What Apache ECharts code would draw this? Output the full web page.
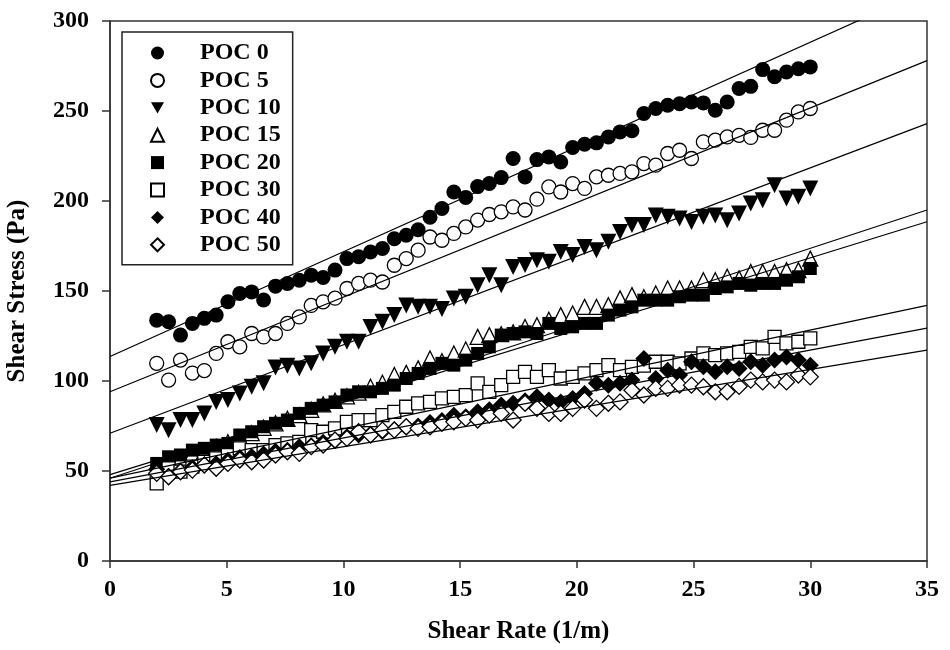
<!DOCTYPE html>
<html><head><meta charset="utf-8">
<script src="https://cdn.jsdelivr.net/npm/echarts@6/dist/echarts.min.js"></script>
<style>html,body{margin:0;padding:0;background:#fff}#chart{width:950px;height:650px}</style>
</head><body><div id="chart"></div>
<script>
// ---- data ----
const shearRate = [2.00, 2.51, 3.02, 3.53, 4.04, 4.55, 5.05, 5.56, 6.07, 6.58, 7.09, 7.60, 8.11, 8.62, 9.13, 9.64, 10.15, 10.65, 11.16, 11.67, 12.18, 12.69, 13.20, 13.71, 14.22, 14.73, 15.24, 15.75, 16.25, 16.76, 17.27, 17.78, 18.29, 18.80, 19.31, 19.82, 20.33, 20.84, 21.35, 21.85, 22.36, 22.87, 23.38, 23.89, 24.40, 24.91, 25.42, 25.93, 26.44, 26.95, 27.45, 27.96, 28.47, 28.98, 29.49, 30.00];

const poc0 = [133.8,132.9,125.5,132,134.8,136.6,144,148.6,149.5,145,152.7,154.2,156,158.8,157.5,161.6,168,169,171.7,173.6,179,181,184,191,195.8,205,202,208,209.7,213,223.6,213.4,223,224.5,221.7,229.7,231.5,232.3,235.6,238.4,239,248.6,251.4,253.2,254,255,254.5,250.4,255,262.5,263.7,273,269,271.7,273.5,274.5];
const poc5 = [109.8,100.5,111.6,104.4,105.8,115.3,121.8,119,126.4,124.5,126.4,132,135.6,142,144,146,151.4,154.2,156,155,164.3,168,172.7,180,178.2,182,185.6,189.4,192.5,194,196.7,195,201,207.8,205,209.7,207,213.4,214.3,215.3,216.2,220.8,219.9,226.4,228.2,223.6,232.8,233.8,235.6,236.5,235.3,239.3,239.3,244.9,249.5,251.4];
const poc10 = [75.5,72.7,78.3,78.3,82,88.4,89.4,93,96.8,98.7,107.5,108.5,107,109.8,115.3,119,121.8,121.8,130,132.9,136.6,142,141.2,141.2,140,145.9,146.8,153.2,158.8,153.2,163.4,164.4,167.1,166.2,171.7,170,174.5,172.7,177.3,182.8,186.6,186.6,192,191.2,190.3,188.4,191.2,192,189.3,193,198.6,200.4,208.8,201.4,202.3,207];
const poc15 = [52,55,57,59.5,61,63.5,66,68.5,71,74,76.5,79,81,84,87,89,91.5,93.5,96.8,99,103.3,104.5,107,112.5,111,115.3,117.5,124.5,125.5,126,127,130,131,134,136.6,137.5,141.2,141.2,142.1,145.9,147.7,146.5,148.6,151.4,151.4,151.4,156,156,157.9,157,160.6,160.6,160.6,161.6,161.6,168];
const poc20 = [54.2,57.9,58.9,61.6,62.6,64.4,65.3,70,71.8,74.6,76.5,78.3,82,84.8,86.6,88.4,92.2,94,94,95.9,97.7,101.4,104.2,107,109.8,108.8,111.6,115.3,119,125.5,126.4,127.3,126.4,132,129.2,130.1,132,132,136.6,139.4,141.2,144.9,144.9,144.9,146.8,147.7,147.7,151.4,152.3,154.2,153.2,154.2,154.2,156,157.9,162.5];
const poc30 = [43.1,51.5,49.6,52.4,55.1,57,58.9,62.6,61.6,61.6,64.4,65.3,66.2,72.7,71.8,73.7,77.3,78.3,78.3,81,82.9,85.7,87.6,88.4,90.3,91.2,92.2,98.7,94,97.7,102.3,105.1,102.3,106,101.4,102.3,104.2,106,108.8,106,107.9,108.5,110.7,110.7,109.8,112.5,115.3,114.4,115.3,116.2,119,118.1,124.5,120.9,121.8,123.7];
const poc40 = [51,47,50,52,53.5,54,56,57.5,58,59.5,61,61.5,63.5,64,66,67,69,70,70.5,72,73,74.5,75,77,78,81,80.1,82.9,84,86.6,87.6,89,91.2,89.4,88.4,90.3,93,98.7,97.7,98.7,100.5,112.5,101.4,106,103.3,110.7,107.9,105.1,107.9,107,110.7,108.8,111.6,113.4,111.6,108.8];
const poc50 = [48.7,46.8,49.6,50.5,53.3,51.5,54.2,56.1,55.1,56.1,58.9,60.7,59.8,63.5,64.4,67.2,68.1,71.8,70,72.7,72.7,74.6,73.7,74.6,76.5,77.3,79.2,78.3,81,82,78.3,87.6,84.8,82,82,84.8,89.4,84.8,87.6,88.4,94.9,92.2,95.9,95.9,97.7,97.7,96.8,94,94,97,100.5,99.5,100.5,99.5,103.3,102.3];

const seriesNames = ['POC 0','POC 5','POC 10','POC 15','POC 20','POC 30','POC 40','POC 50'];
// fitted straight lines: value at x = fitX[0] and x = fitX[1]
const fitX = [0, 35];
const fitStart = [113.6, 94, 71, 46, 48, 46, 44, 42];
const fitEnd = [317.3, 278, 243, 195, 188.5, 142, 129.4, 117.2];

const xTicks = [0, 5, 10, 15, 20, 25, 30, 35];
const yTicks = [0, 50, 100, 150, 200, 250, 300];

// ---- chart ----
const allValues = [poc0, poc5, poc10, poc15, poc20, poc30, poc40, poc50];
const DOWN_TRI = 'path://M0,0L20,0L10,17.3Z';
const markerStyles = [
  {symbol:'circle', rotate:0, filled:true, size:15},
  {symbol:'circle', rotate:0, filled:false, size:14},
  {symbol:'triangle', rotate:180, filled:true, size:16, legendIcon: DOWN_TRI},
  {symbol:'triangle', rotate:0, filled:false, size:15},
  {symbol:'rect', rotate:0, filled:true, size:13},
  {symbol:'rect', rotate:0, filled:false, size:13},
  {symbol:'diamond', rotate:0, filled:true, size:17},
  {symbol:'diamond', rotate:0, filled:false, size:16}
];
const FONT = '"Liberation Serif", "Times New Roman", serif';
const FS = 24;

const series = [];
seriesNames.forEach((name, k) => {
  const m = markerStyles[k];
  series.push({
    name: name,
    type: 'scatter',
    data: shearRate.map((x, i) => [x, allValues[k][i]]),
    symbol: m.symbol,
    symbolRotate: m.rotate,
    symbolSize: m.size,
    itemStyle: {
      color: m.filled ? '#000' : '#fff',
      borderColor: '#000',
      borderWidth: m.filled ? 0 : 1.3,
      opacity: 1
    },
    z: 2
  });
});
seriesNames.forEach((name, k) => {
  series.push({
    name: name + ' fit',
    type: 'line',
    data: [[fitX[0], fitStart[k]], [fitX[1], fitEnd[k]]],
    showSymbol: false,
    symbol: 'none',
    silent: true,
    clip: true,
    lineStyle: {color: '#000', width: 1.2},
    z: 3
  });
});

const legendData = seriesNames.map((name, k) => {
  const m = markerStyles[k];
  const item = {name: name};
  if (m.legendIcon) item.icon = m.legendIcon;
  return item;
});

const chart = echarts.init(document.getElementById('chart'));
chart.setOption({
  backgroundColor: '#fff',
  animation: false,
  grid: {left: 110, top: 21, width: 817, height: 540, containLabel: false, outerBoundsMode: 'none',
         show: true, borderColor: '#333', borderWidth: 1.5, backgroundColor: 'transparent'},
  xAxis: {
    type: 'value', min: xTicks[0], max: xTicks[xTicks.length - 1], interval: 5,
    name: 'Shear Rate (1/m)', nameLocation: 'middle', nameGap: 58,
    nameTextStyle: {fontFamily: FONT, fontWeight: 'bold', fontSize: 25, color: '#000'},
    axisLine: {show: true, onZero: false, lineStyle: {color: '#333', width: 1.5}},
    axisTick: {show: true, inside: false, length: 7, lineStyle: {color: '#333', width: 1.5}},
    axisLabel: {margin: 17, fontFamily: FONT, fontWeight: 'bold', fontSize: FS, color: '#000'},
    splitLine: {show: false}
  },
  yAxis: {
    type: 'value', min: yTicks[0], max: yTicks[yTicks.length - 1], interval: 50,
    name: 'Shear Stress (Pa)', nameLocation: 'middle', nameGap: 80, nameRotate: 90,
    nameTextStyle: {fontFamily: FONT, fontWeight: 'bold', fontSize: 25, color: '#000'},
    axisLine: {show: true, onZero: false, lineStyle: {color: '#333', width: 1.5}},
    axisTick: {show: true, inside: false, length: 8, lineStyle: {color: '#333', width: 1.5}},
    axisLabel: {margin: 21, fontFamily: FONT, fontWeight: 'bold', fontSize: FS, color: '#000'},
    splitLine: {show: false}
  },
  legend: {
    data: legendData,
    orient: 'vertical',
    left: 122, top: 32,
    padding: [9, 12, 8, 28],
    itemWidth: 13, itemHeight: 13, itemGap: 3.4,
    borderColor: '#222', borderWidth: 1.5,
    backgroundColor: '#fff',
    selectedMode: false,
    textStyle: {fontFamily: FONT, fontWeight: 'bold', fontSize: FS, color: '#000', padding: [0, 0, 0, 31]}
  },
  series: series
});
</script>
</body></html>
